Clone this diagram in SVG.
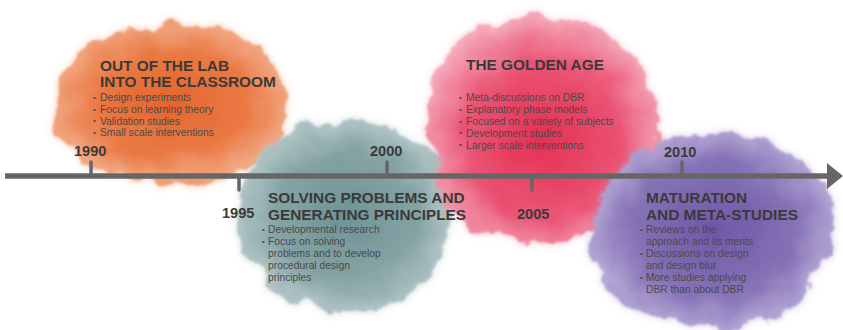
<svg xmlns="http://www.w3.org/2000/svg" width="843" height="330" viewBox="0 0 843 330">
<defs>
<style>
.title{font-family:"Liberation Sans",Arial,sans-serif;font-weight:bold;font-size:15.4px;fill:#3a3a3a}
.item{font-family:"Liberation Sans",Arial,sans-serif;font-size:10.3px;fill:#4a4a4a}
.bul{font-family:"Liberation Sans",Arial,sans-serif;font-size:8px;fill:#4a4a4a}
.year{font-family:"Liberation Sans",Arial,sans-serif;font-weight:bold;font-size:14.6px;fill:#3a3a3a}
.axis{stroke:#666;stroke-width:5.5;fill:none}
.tick{stroke:#666;stroke-width:3.5;stroke-linecap:round}
</style>
<filter id="wc" x="-20%" y="-20%" width="140%" height="140%">
<feTurbulence type="fractalNoise" baseFrequency="0.035" numOctaves="4" seed="4" result="n"/>
<feDisplacementMap in="SourceGraphic" in2="n" scale="24" xChannelSelector="R" yChannelSelector="G" result="d"/>
<feGaussianBlur in="d" stdDeviation="4" result="halo"/>
<feComponentTransfer in="halo" result="halo2"><feFuncA type="linear" slope="0.55"/></feComponentTransfer>
<feGaussianBlur in="d" stdDeviation="1.2" result="core"/>
<feMerge><feMergeNode in="halo2"/><feMergeNode in="core"/></feMerge>
</filter>
<radialGradient id="gO" cx="50%" cy="50%" r="55%"><stop offset="0" stop-color="#E4642C"/><stop offset="0.6" stop-color="#EA7A45"/><stop offset="1" stop-color="#F3B08E"/></radialGradient>
<radialGradient id="gT" cx="50%" cy="50%" r="55%"><stop offset="0" stop-color="#6F9396"/><stop offset="0.6" stop-color="#85A3A5"/><stop offset="1" stop-color="#BCCDCE"/></radialGradient>
<radialGradient id="gP" cx="50%" cy="55%" r="55%"><stop offset="0" stop-color="#E42F52"/><stop offset="0.6" stop-color="#EA5474"/><stop offset="1" stop-color="#F5AABB"/></radialGradient>
<radialGradient id="gV" cx="50%" cy="50%" r="55%"><stop offset="0" stop-color="#6E55A6"/><stop offset="0.6" stop-color="#8572B6"/><stop offset="1" stop-color="#BDB0DA"/></radialGradient>
</defs>
<rect width="843" height="330" fill="#fff"/>

<g id="blob-1990" filter="url(#wc)">
<path fill="url(#gO)" d="M60,95 C55,60 90,35 140,32 C170,20 230,22 255,45 C285,60 292,100 282,130 C272,165 230,182 180,180 C130,185 80,170 65,140 C50,125 55,110 60,95 Z"/>
</g>
<g id="blob-1995" filter="url(#wc)">
<path fill="url(#gT)" d="M240,215 C238,170 275,128 330,120 C380,112 440,140 450,190 C460,240 430,290 380,308 C330,322 275,300 255,270 C240,250 240,235 240,215 Z"/>
</g>
<g id="blob-2005" filter="url(#wc)">
<path fill="url(#gP)" d="M428,110 C425,60 470,18 530,14 C590,10 640,45 655,95 C668,140 650,200 600,230 C560,250 500,248 465,220 C435,195 430,150 428,110 Z"/>
</g>
<g id="blob-2010" filter="url(#wc)">
<path fill="url(#gV)" d="M592,240 C590,190 630,145 690,135 C750,125 815,150 832,200 C845,250 815,305 760,322 C705,335 640,320 612,290 C595,275 593,258 592,240 Z"/>
</g>

<g id="connectors">
<line class="axis" x1="5" y1="176" x2="830" y2="176"/>
<polygon points="827,163 843,176 827,189" fill="#666"/>
<line class="tick" x1="91" y1="162" x2="91" y2="176"/>
<line class="tick" x1="239" y1="176" x2="239" y2="190"/>
<line class="tick" x1="387" y1="162" x2="387" y2="176"/>
<line class="tick" x1="532" y1="176" x2="532" y2="190"/>
<line class="tick" x1="682" y1="162" x2="682" y2="176"/>
</g>

<g id="node-1990">
<text class="year" x="74" y="156">1990</text>
<text class="title" x="100" y="71">OUT OF THE LAB</text>
<text class="title" x="100" y="87">INTO THE CLASSROOM</text>
<text class="bul" x="93" y="100">•</text><text class="item" x="100" y="101">Design experiments</text>
<text class="bul" x="93" y="112">•</text><text class="item" x="100" y="113">Focus on learning theory</text>
<text class="bul" x="93" y="123">•</text><text class="item" x="100" y="124.5">Validation studies</text>
<text class="bul" x="93" y="135">•</text><text class="item" x="100" y="136">Small scale interventions</text>
</g>

<g id="node-1995">
<text class="year" x="222" y="218">1995</text>
<text class="title" x="268" y="203">SOLVING PROBLEMS AND</text>
<text class="title" x="268" y="220">GENERATING PRINCIPLES</text>
<text class="bul" x="262" y="232">•</text><text class="item" x="268" y="233">Developmental research</text>
<text class="bul" x="262" y="244">•</text><text class="item" x="268" y="245">Focus on solving</text>
<text class="item" x="268" y="257">problems and to develop</text>
<text class="item" x="268" y="269">procedural design</text>
<text class="item" x="268" y="280.5">principles</text>
</g>

<g id="node-2000">
<text class="year" x="370" y="156">2000</text>
</g>

<g id="node-2005">
<text class="year" x="517" y="219">2005</text>
<text class="title" x="466" y="70">THE GOLDEN AGE</text>
<text class="bul" x="459" y="100">•</text><text class="item" x="466" y="101">Meta-discussions on DBR</text>
<text class="bul" x="459" y="112">•</text><text class="item" x="466" y="113">Explanatory phase models</text>
<text class="bul" x="459" y="124">•</text><text class="item" x="466" y="125">Focused on a variety of subjects</text>
<text class="bul" x="459" y="135">•</text><text class="item" x="466" y="136.5">Development studies</text>
<text class="bul" x="459" y="147">•</text><text class="item" x="466" y="148.5">Larger scale interventions</text>
</g>

<g id="node-2010">
<text class="year" x="664" y="157">2010</text>
<text class="title" x="646" y="203">MATURATION</text>
<text class="title" x="646" y="220">AND META-STUDIES</text>
<text class="bul" x="640" y="232">•</text><text class="item" x="646" y="233">Reviews on the</text>
<text class="item" x="646" y="245">approach and its merits</text>
<text class="bul" x="640" y="256">•</text><text class="item" x="646" y="257">Discussions on design</text>
<text class="item" x="646" y="269">and design blur</text>
<text class="bul" x="640" y="280">•</text><text class="item" x="646" y="281">More studies applying</text>
<text class="item" x="646" y="293">DBR than about DBR</text>
</g>
</svg>
